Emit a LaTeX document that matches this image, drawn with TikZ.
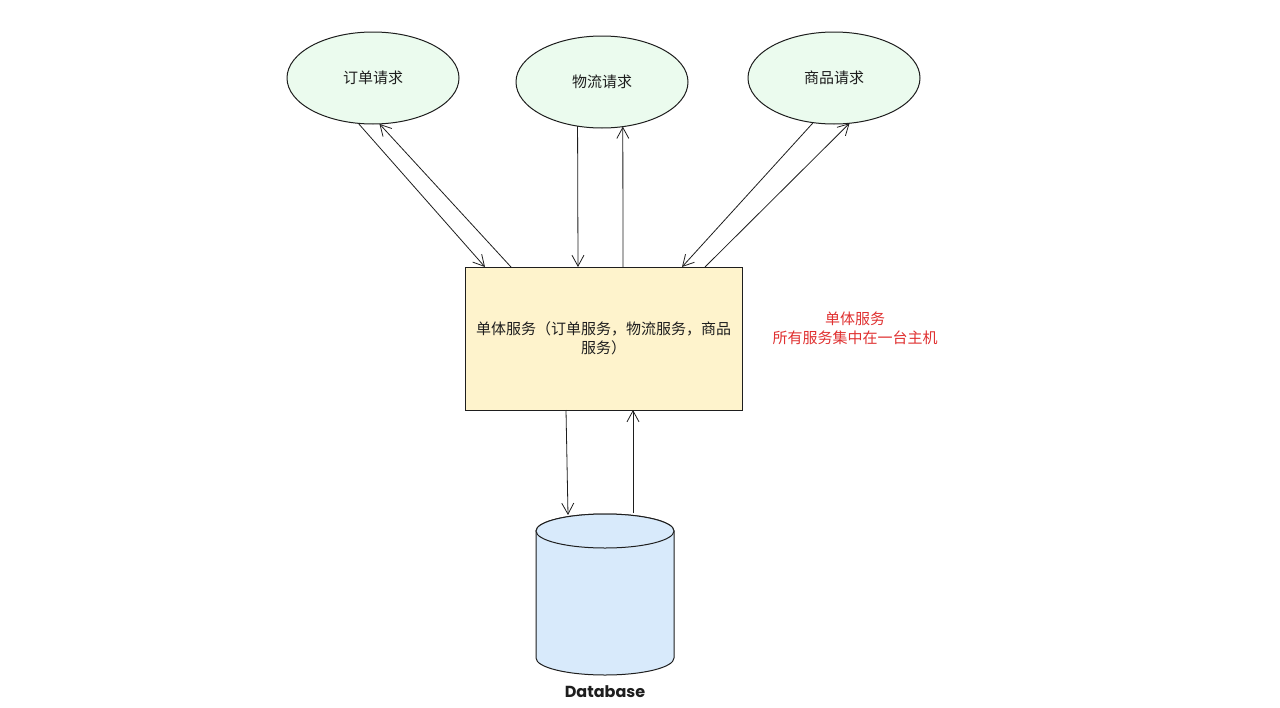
\documentclass[tikz,border=0pt]{standalone}
\usepackage{fontspec}
\setmainfont{Poppins}
\newfontfamily\cjk{Noto Sans CJK SC}
\usetikzlibrary{shapes.geometric,arrows.meta}
\definecolor{ink}{HTML}{1E1E1E}
\definecolor{greenfill}{HTML}{EBFBEE}
\definecolor{yellowfill}{HTML}{FEF3CC}
\definecolor{bluefill}{HTML}{D8EAFB}
\definecolor{redtext}{HTML}{E03131}
\tikzset{
  reqnode/.style={ellipse, draw=ink, fill=greenfill, line width=1pt, inner sep=0pt, outer sep=0pt,
    minimum width=172pt, minimum height=92pt, font=\cjk\fontsize{15}{19}\selectfont, text=ink},
  svcbox/.style={rectangle, draw=ink, fill=yellowfill, line width=1pt, inner sep=0pt, outer sep=0pt,
    minimum width=277pt, minimum height=143pt, align=center, font=\cjk\fontsize{15}{19}\selectfont, text=ink},
  arr/.style={draw=ink, line width=0.8pt, -{Straight Barb[length=11pt,width=12pt,line width=0.8pt]}},
  note/.style={align=center, text=redtext, font=\cjk\fontsize{15}{19}\selectfont},
  dbshape/.style={draw=ink, fill=bluefill, line width=1pt},
}
\begin{document}
\begin{tikzpicture}[x=1pt,y=-1pt]
\useasboundingbox[fill=white] (0,0) rectangle (1280,707);

\node[reqnode] (e1) at (373,78) {订单请求};
\node[reqnode] (e2) at (602,82) {物流请求};
\node[reqnode] (e3) at (834,78) {商品请求};

\node[svcbox] (svc) at (603.5,338.5) {单体服务（订单服务，物流服务，商品\\服务）};

\node[note] (memo) at (855,328) {单体服务\\所有服务集中在一台主机};

% database cylinder
\path[dbshape] (536,531) -- (536,658) arc[start angle=180, end angle=360, x radius=69pt, y radius=17pt] -- (674,531) arc[start angle=0, end angle=180, x radius=69pt, y radius=17pt] -- cycle;
\draw[dbshape] (605,531) ellipse [x radius=69pt, y radius=17pt];
\node[inner sep=0pt, outer sep=0pt, minimum width=138pt, minimum height=160pt] (db) at (605,594) {};
\node[font=\bfseries\fontsize{16}{19}\selectfont, text=ink] (dblabel) at (605,692) {Database};

% connectors
\draw[arr] (e1.252.9) -- ([xshift=20pt]svc.north west);
\draw[arr] ([xshift=46pt]svc.north west) -- (e1.278.7);
\draw[arr] (e2.241.5) -- ([xshift=113pt]svc.north west);
\draw[arr] ([xshift=158pt]svc.north west) -- (e2.295.2);
\draw[arr] (e3.245.9) -- ([xshift=217pt]svc.north west);
\draw[arr] ([xshift=240pt]svc.north west) -- (e3.289.5);
\draw[arr] ([xshift=101pt]svc.south west) -- ([xshift=32pt,yshift=-1pt]db.north west);
\draw[arr] ([xshift=97pt,yshift=1pt]db.north west) -- ([xshift=168pt]svc.south west);
\end{tikzpicture}
\end{document}
